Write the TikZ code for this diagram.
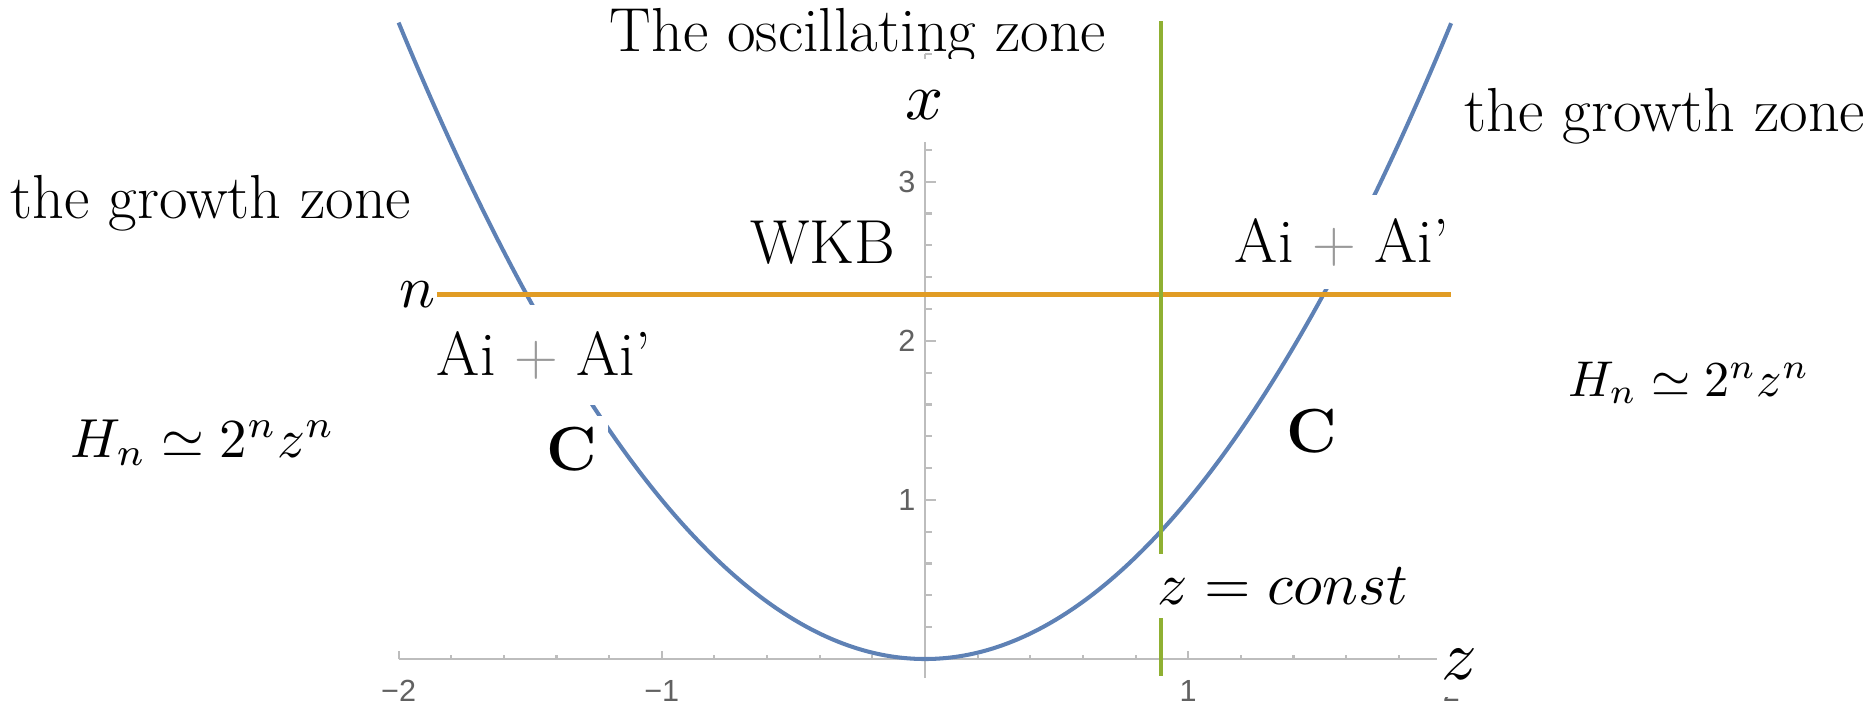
\documentclass[tikz,border=0pt]{standalone}
\usepackage{fontspec}
\newfontfamily\tickfont{Liberation Sans}
\definecolor{mblue}{rgb}{0.368417,0.506779,0.709798}
\definecolor{morange}{rgb}{0.880722,0.611041,0.142051}
\definecolor{mgreen}{rgb}{0.560181,0.691569,0.194885}
\definecolor{axisgray}{gray}{0.74}
\definecolor{ticktext}{gray}{0.38}
\definecolor{plusgray}{gray}{0.6}
\tikzset{
  axisline/.style={draw=axisgray, line width=0.6pt},
  ticklab/.style={font=\tickfont\fontsize{8.7}{10}\selectfont, text=ticktext, inner sep=0pt},
  lab/.style={font=\fontsize{17.7}{21}\selectfont, inner sep=0pt},
  mlab/.style={font=\normalsize, inner sep=0pt},
  whitelab/.style={lab, fill=white},
  curve/.style={draw=mblue, line width=1.15pt},
  nline/.style={draw=morange, line width=1.3pt},
  zline/.style={draw=mgreen, line width=1.1pt},
}
\begin{document}
\begin{tikzpicture}[x=2.632cm,y=1.591cm]
\useasboundingbox (-9.25cm,-0.44cm) rectangle (9.51cm,6.59cm);
% axes
\draw[axisline] (-2,0) -- (2,0);
\draw[axisline] (0,-0.12) -- (0,3.8);
\foreach \i in {-10,...,10} \draw[axisline] ({\i/5},0) -- ++(0,0.045cm);
\foreach \i in {-2,-1,1,2} \draw[axisline] (\i,0) -- ++(0,0.077cm);
\foreach \i in {1,...,19} \draw[axisline] (0,{\i/5}) -- ++(0.067cm,0);
\foreach \i in {1,2,3} \draw[axisline] (0,\i) -- ++(0.11cm,0);
% tick labels
\node[ticklab] (tm2) at ([yshift=-0.32cm]-2,0) {−2};
\node[ticklab] (tm1) at ([yshift=-0.32cm]-1,0) {−1};
\node[ticklab] (tp1) at ([yshift=-0.32cm]1,0) {1};
\node[ticklab] (tp2) at ([yshift=-0.32cm]2,0) {2};
\node[ticklab] (ty1) at ([xshift=-0.18cm]0,1) {1};
\node[ticklab] (ty2) at ([xshift=-0.18cm]0,2) {2};
\node[ticklab] (ty3) at ([xshift=-0.18cm]0,3) {3};
% curve and lines
\draw[curve] plot[domain=-2:2,samples=161,smooth] (\x,{(\x)^2});
\coordinate (nL) at (-1.855,2.29);
\coordinate (nR) at (2,2.29);
\draw[nline] (nL) -- (nR);
\coordinate (gT) at (0.895,4.01);
\coordinate (gB) at (0.895,-0.105);
\draw[zline] (gT) -- (gB);
% labels
\node[lab] (osc) at (-0.67cm,6.23cm) {The oscillating zone};
\fill[white] (-1.5cm,5.17cm) rectangle (1.4cm,6.0cm);
\node[mlab, scale=1.9] (xl) at (0cm,5.54cm) {$x$};
\node[lab] (gzL) at (-7.14cm,4.56cm) {the growth zone};
\node[lab] (gzR) at (7.40cm,5.43cm) {the growth zone};
\node[lab] (wkb) at (-1.02cm,4.16cm) {WKB};
\node[whitelab, minimum height=0.94cm, inner xsep=0.1cm] (aiR) at (4.17cm,4.17cm) {Ai {\color{plusgray}$+$} Ai'};
\node[whitelab, minimum height=1.0cm, inner xsep=0.1cm] (aiL) at (-3.81cm,3.04cm) {Ai {\color{plusgray}$+$} Ai'};
\node[mlab, scale=1.7] (nlab) at (-5.075cm,3.64cm) {$n$};
\node[mlab, scale=1.565] (hL) at (-7.22cm,2.16cm) {$H_n\simeq 2^n z^n$};
\node[mlab, scale=1.43] (hR) at (7.64cm,2.76cm) {$H_n\simeq 2^n z^n$};
\node[whitelab, font=\fontsize{17.7}{21}\selectfont\bfseries, inner sep=0.11cm] (cL) at (-3.53cm,2.10cm) {C};
\node[lab, font=\fontsize{17.7}{21}\selectfont\bfseries] (cR) at (3.87cm,2.28cm) {C};
\node[mlab, fill=white, scale=1.7, inner xsep=0.07cm, inner ysep=0.082cm] (zc) at (3.58cm,0.73cm) {$z = const$};
\node[mlab, fill=white, scale=2.0, inner xsep=0.02cm, inner ysep=0.09cm] (zl) at (5.34cm,-0.05cm) {$z$};
\end{tikzpicture}
\end{document}
